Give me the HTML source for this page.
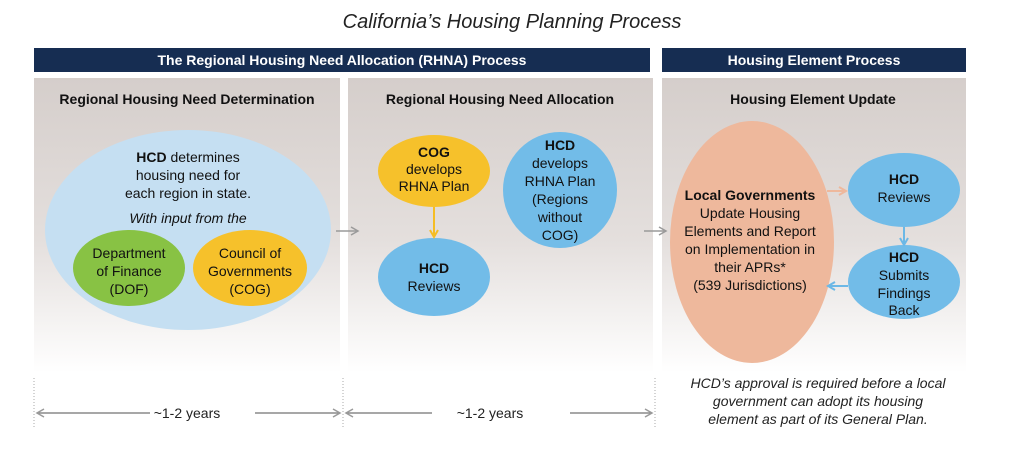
<!DOCTYPE html>
<html><head><meta charset="utf-8"><style>
html,body{margin:0;padding:0;background:#fff;}
svg{display:block;font-family:"Liberation Sans",sans-serif;}
</style></head><body>
<svg width="1024" height="450" viewBox="0 0 1024 450" xmlns="http://www.w3.org/2000/svg">
<defs>
<linearGradient id="g" x1="0" y1="0" x2="0" y2="1">
<stop offset="0" stop-color="#d5cecb"/><stop offset="0.55" stop-color="#e4dfdd"/><stop offset="1" stop-color="#ffffff"/>
</linearGradient>
<marker id="ag" markerWidth="10" markerHeight="10" refX="8" refY="5" orient="auto" markerUnits="userSpaceOnUse"><path d="M1,1 L8,5 L1,9" fill="none" stroke="#9a9a9a" stroke-width="1.5"/></marker>
<marker id="ay" markerWidth="10" markerHeight="10" refX="8" refY="5" orient="auto" markerUnits="userSpaceOnUse"><path d="M1,1 L8,5 L1,9" fill="none" stroke="#f5bd25" stroke-width="2"/></marker>
<marker id="ab" markerWidth="10" markerHeight="10" refX="8" refY="5" orient="auto" markerUnits="userSpaceOnUse"><path d="M1,1 L8,5 L1,9" fill="none" stroke="#6cb8e6" stroke-width="2"/></marker>
<marker id="ap" markerWidth="10" markerHeight="10" refX="8" refY="5" orient="auto" markerUnits="userSpaceOnUse"><path d="M1,1 L8,5 L1,9" fill="none" stroke="#eeb89c" stroke-width="2"/></marker>
</defs>
<text x="512" y="28" text-anchor="middle" font-size="20" font-style="italic" fill="#222">California’s Housing Planning Process</text>
<rect x="34" y="48" width="616" height="24" fill="#162d52"/>
<rect x="662" y="48" width="304" height="24" fill="#162d52"/>
<text x="342" y="65" text-anchor="middle" font-size="14" font-weight="bold" fill="#fff">The Regional Housing Need Allocation (RHNA) Process</text>
<text x="814" y="65" text-anchor="middle" font-size="14" font-weight="bold" fill="#fff">Housing Element Process</text>
<rect x="34" y="78" width="306" height="295" fill="url(#g)"/>
<rect x="348" y="78" width="305" height="295" fill="url(#g)"/>
<rect x="662" y="78" width="304" height="295" fill="url(#g)"/>
<g font-size="14" font-weight="bold" fill="#111" text-anchor="middle">
<text x="187" y="104">Regional Housing Need Determination</text>
<text x="500" y="104">Regional Housing Need Allocation</text>
<text x="813" y="104">Housing Element Update</text>
</g>
<ellipse cx="188" cy="230" rx="143" ry="100" fill="#c5dff2"/>
<ellipse cx="129" cy="268" rx="56" ry="38" fill="#88c244"/>
<ellipse cx="250" cy="268" rx="57" ry="38" fill="#f6c12b"/>
<g font-size="14" fill="#111" text-anchor="middle">
<text x="188" y="162"><tspan font-weight="bold">HCD</tspan> determines</text>
<text x="188" y="180">housing need for</text>
<text x="188" y="198">each region in state.</text>
<text x="188" y="223" font-style="italic">With input from the</text>
<text x="129" y="258">Department</text><text x="129" y="276">of Finance</text><text x="129" y="294">(DOF)</text>
<text x="250" y="258">Council of</text><text x="250" y="276">Governments</text><text x="250" y="294">(COG)</text>
</g>
<ellipse cx="434" cy="171" rx="56" ry="36" fill="#f6c12b"/>
<ellipse cx="434" cy="277" rx="56" ry="39" fill="#72bce8"/>
<ellipse cx="560" cy="190" rx="57" ry="58" fill="#72bce8"/>
<line x1="434" y1="207" x2="434" y2="237" stroke="#f5bd25" stroke-width="2" marker-end="url(#ay)"/>
<g font-size="14" fill="#111" text-anchor="middle">
<text x="434" y="157" font-weight="bold">COG</text><text x="434" y="174">develops</text><text x="434" y="191">RHNA Plan</text>
<text x="434" y="273" font-weight="bold">HCD</text><text x="434" y="291">Reviews</text>
<text x="560" y="150" font-weight="bold">HCD</text><text x="560" y="168">develops</text><text x="560" y="186">RHNA Plan</text><text x="560" y="204">(Regions</text><text x="560" y="222">without</text><text x="560" y="240">COG)</text>
</g>
<ellipse cx="752" cy="242" rx="82" ry="121" fill="#eeb89c"/>
<ellipse cx="904" cy="190" rx="56" ry="37" fill="#72bce8"/>
<ellipse cx="904" cy="282" rx="56" ry="37" fill="#72bce8"/>
<line x1="827" y1="191" x2="846" y2="191" stroke="#eeb89c" stroke-width="2" marker-end="url(#ap)"/>
<line x1="904" y1="227" x2="904" y2="245" stroke="#6cb8e6" stroke-width="2" marker-end="url(#ab)"/>
<line x1="848" y1="286" x2="828" y2="286" stroke="#6cb8e6" stroke-width="2" marker-end="url(#ab)"/>
<g font-size="14" fill="#111" text-anchor="middle">
<text x="750" y="200" font-weight="bold">Local Governments</text>
<text x="750" y="218">Update Housing</text><text x="750" y="236">Elements and Report</text><text x="750" y="254">on Implementation in</text><text x="750" y="272">their APRs*</text><text x="750" y="290">(539 Jurisdictions)</text>
<text x="904" y="184" font-weight="bold">HCD</text><text x="904" y="202">Reviews</text>
<text x="904" y="262" font-weight="bold">HCD</text><text x="904" y="280">Submits</text><text x="904" y="298">Findings</text><text x="904" y="315">Back</text>
</g>
<line x1="336" y1="231" x2="358" y2="231" stroke="#9a9a9a" stroke-width="1.5" marker-end="url(#ag)"/>
<line x1="644" y1="231" x2="666" y2="231" stroke="#9a9a9a" stroke-width="1.5" marker-end="url(#ag)"/>
<g stroke="#aaa" stroke-width="1" stroke-dasharray="1,2">
<line x1="34" y1="378" x2="34" y2="428"/><line x1="343" y1="378" x2="343" y2="428"/><line x1="655" y1="378" x2="655" y2="428"/>
</g>
<g stroke="#8a8a8a" stroke-width="1.5">
<line x1="150" y1="413" x2="37" y2="413" marker-end="url(#ag)"/>
<line x1="255" y1="413" x2="340" y2="413" marker-end="url(#ag)"/>
<line x1="432" y1="413" x2="346" y2="413" marker-end="url(#ag)"/>
<line x1="570" y1="413" x2="652" y2="413" marker-end="url(#ag)"/>
</g>
<g font-size="14" fill="#222" text-anchor="middle">
<text x="187" y="418">~1-2 years</text>
<text x="490" y="418">~1-2 years</text>
</g>
<g font-size="14" font-style="italic" fill="#222" text-anchor="middle">
<text x="818" y="388">HCD’s approval is required before a local</text>
<text x="818" y="406">government can adopt its housing</text>
<text x="818" y="424">element as part of its General Plan.</text>
</g>
</svg>
</body></html>
